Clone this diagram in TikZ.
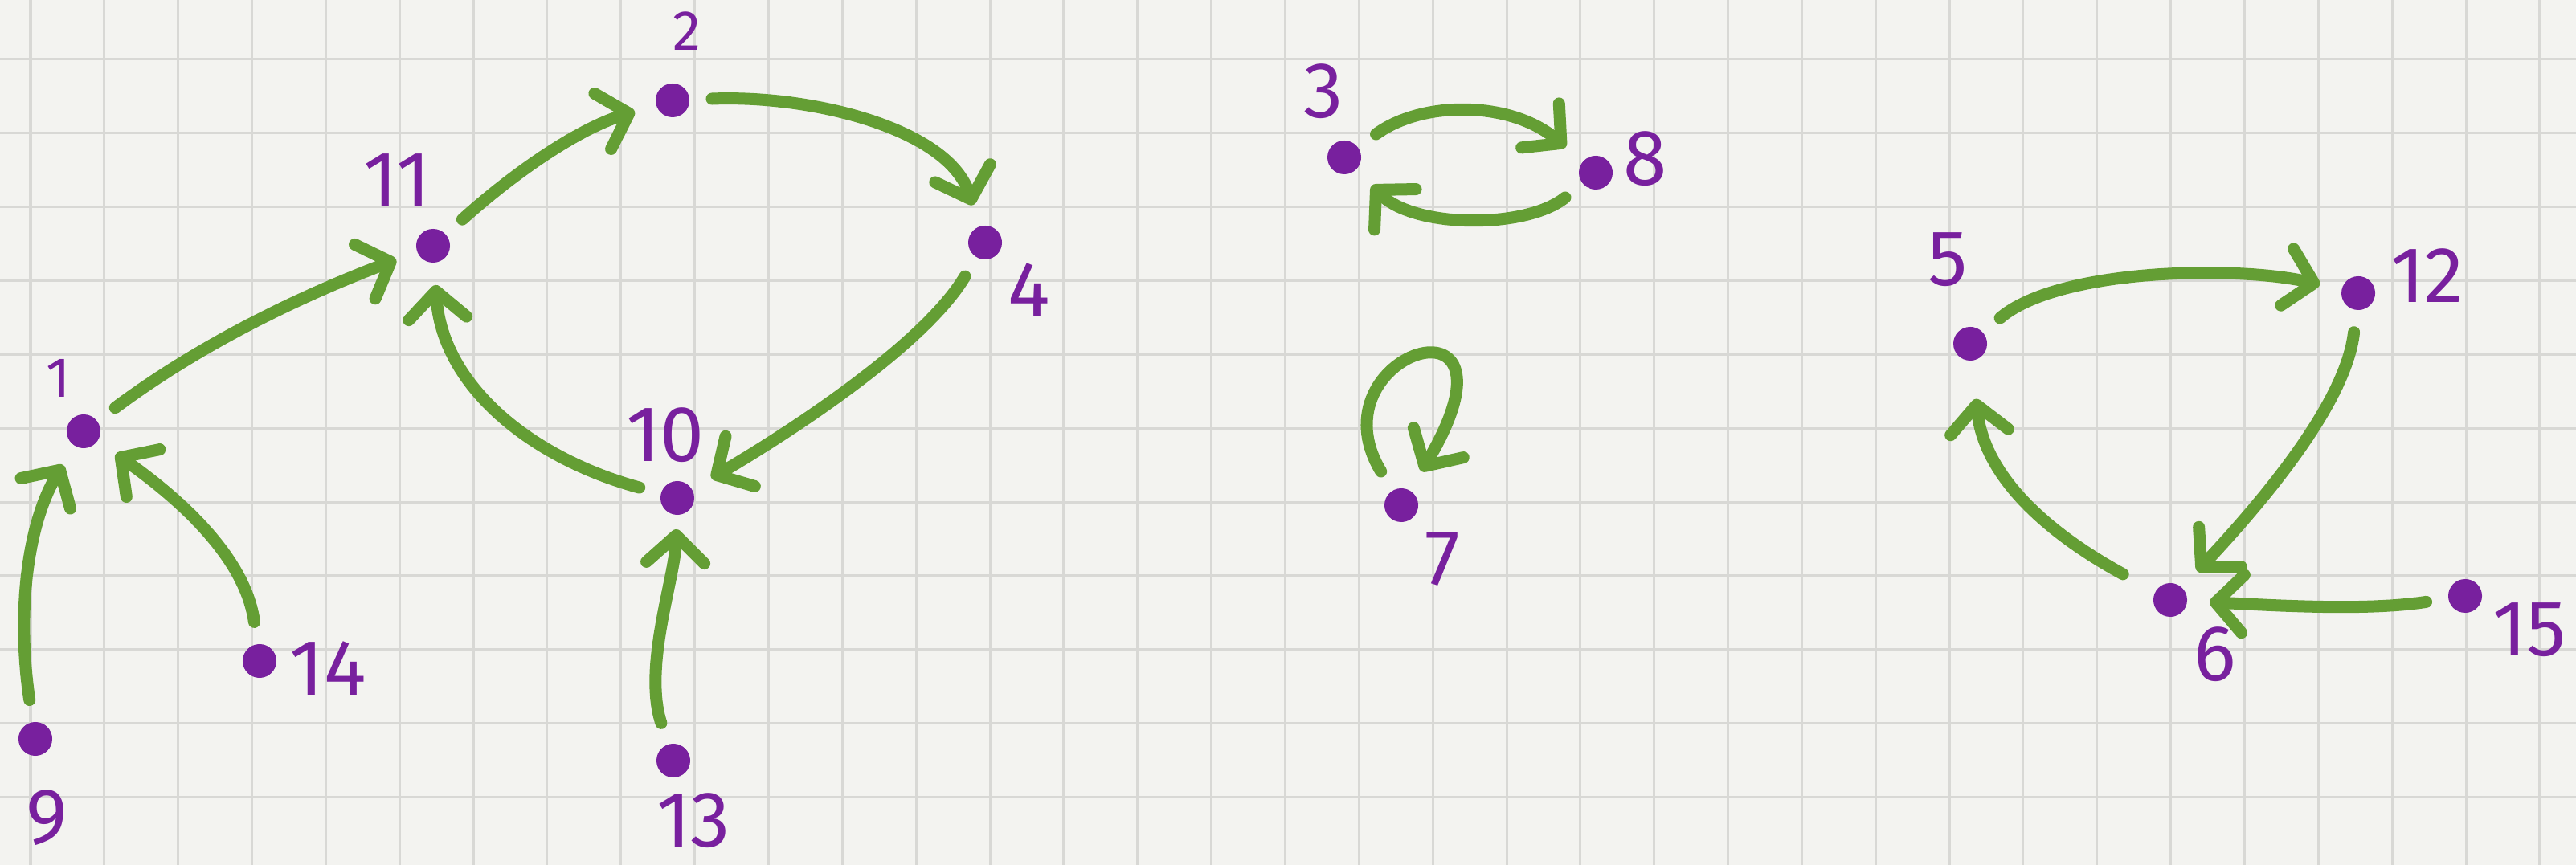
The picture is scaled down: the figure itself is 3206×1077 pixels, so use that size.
\documentclass[tikz,border=0pt]{standalone}
\usepackage{fontspec}
\setmainfont{Fira Sans}[Numbers=Lining]
\usetikzlibrary{arrows.meta}
\definecolor{paper}{RGB}{243,243,240}
\definecolor{gridc}{RGB}{216,216,213}
\definecolor{pen}{RGB}{120,32,158}
\definecolor{marker}{RGB}{100,158,52}
\begin{document}
\begin{tikzpicture}[x=0.01cm,y=-0.01cm,
 dot/.style={circle,fill=pen,inner sep=0pt,minimum size=0.42cm,outer sep=0.28cm},
 lbl/.style={text=pen,font=\fontsize{28}{30}\selectfont,inner sep=0pt},
 slbl/.style={text=pen,font=\fontsize{20}{22}\selectfont,inner sep=0pt},
 arr/.style={draw=marker,line width=0.15cm,line cap=round,-{Straight Barb[length=0.34cm,width=0.72cm,round]}},
 gridline/.style={draw=gridc,line width=0.03cm}
]
\fill[paper] (0,0) rectangle (3206,1077);
\useasboundingbox (0,0) rectangle (3206,1077);
\clip (0,0) rectangle (3206,1077);
\foreach \k in {0,...,34} \draw[gridline] ({38+91.85*\k},0) -- ({38+91.85*\k},1077);
\foreach \k in {0,...,10} \draw[gridline] (0,{74+91.85*\k}) -- (3206,{74+91.85*\k});

% vertices
\node[dot] (n1) at (104,537) {};
\node[dot] (n2) at (837,125) {};
\node[dot] (n3) at (1673,196) {};
\node[dot] (n4) at (1226,302) {};
\node[dot] (n5) at (2452,428) {};
\node[dot] (n6) at (2701,747) {};
\node[dot] (n7) at (1744,629) {};
\node[dot] (n8) at (1986,215) {};
\node[dot] (n9) at (44,920) {};
\node[dot] (n10) at (843,620) {};
\node[dot] (n11) at (539,306) {};
\node[dot] (n12) at (2935,365) {};
\node[dot] (n13) at (838,947) {};
\node[dot] (n14) at (323,823) {};
\node[dot] (n15) at (3068,742) {};

% labels
\node[slbl] (l1) at (73,471) {1};
\node[slbl] (l2) at (855,39) {2};
\node[lbl] (l3) at (1647,114) {3};
\node[lbl] (l4) at (1281,361) {4};
\node[lbl] (l5) at (2424,323) {5};
\node[lbl] (l6) at (2757,815) {6};
\node[lbl] (l7) at (1795,696) {7};
\node[lbl] (l8) at (2048,198) {8};
\node[lbl] (l9) at (58,1018) {9};
\node[lbl] (l10) at (828,542) {10};
\node[lbl] (l11) at (494,225) {11};
\node[lbl] (l12) at (3021,343) {12};
\node[lbl] (l13) at (863,1022) {13};
\node[lbl] (l14) at (408,832) {14};
\node[lbl] (l15) at (3148,784) {15};

% edges
\draw[arr] (n9) .. controls (20,760) and (35,650) .. (n1);
\draw[arr] (n14) .. controls (305,690) and (215,615) .. (n1);
\draw[arr] (n1) .. controls (245,432) and (365,372) .. (n11);
\draw[arr] (n11) .. controls (640,215) and (720,160) .. (n2);
\draw[arr] (n2) .. controls (1010,118) and (1180,160) .. (n4);
\draw[arr] (n4) .. controls (1150,430) and (980,540) .. (n10);
\draw[arr] (n10) .. controls (660,570) and (550,480) .. (n11);
\draw[arr,shorten >=-0.1cm] (n13) .. controls (800,830) and (840,720) .. (n10);
\draw[arr] (n3) .. controls (1770,125) and (1880,125) .. (n8);
\draw[arr] (n8) .. controls (1900,285) and (1760,285) .. (n3);
\draw[arr] (n7) .. controls (1630,440) and (1910,350) .. (n7);
\draw[arr] (n5) .. controls (2560,335) and (2780,330) .. (n12);
\draw[arr] (n12) .. controls (2920,500) and (2820,620) .. (n6);
\draw[arr,shorten <=0.18cm,shorten >=0.2cm] (n6) .. controls (2560,670) and (2470,600) .. (n5);
\draw[arr] (n15) .. controls (2950,760) and (2850,755) .. (n6);
\end{tikzpicture}
\end{document}
